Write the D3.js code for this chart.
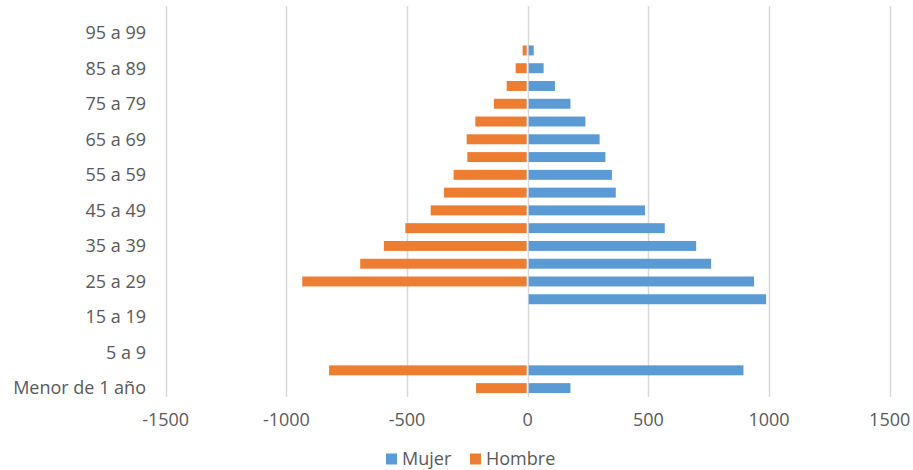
<!DOCTYPE html>
<html>
<head>
<meta charset="utf-8">
<script src="https://cdn.jsdelivr.net/npm/d3@7"></script>
<style>
  body { margin: 0; background: #fff; }
  text { font-family: "Open Sans", sans-serif; fill: #595959; }
</style>
</head>
<body>
<svg id="chart" width="913" height="470"></svg>
<script>
// age groups, bottom to top
const groups = [
  "Menor de 1 año", "1 a 4", "5 a 9", "10 a 14", "15 a 19", "20 a 24",
  "25 a 29", "30 a 34", "35 a 39", "40 a 44", "45 a 49", "50 a 54",
  "55 a 59", "60 a 64", "65 a 69", "70 a 74", "75 a 79", "80 a 84",
  "85 a 89", "90 a 94", "95 a 99", "100 y más"
];

// women (right side)
const mujer = [177, 894, 0, 0, 0, 988, 938, 760, 698, 568, 486, 365,
  349, 322, 298, 239, 177, 113, 66, 25, 0, 0];

// men (left side, negative)
const hombre = [-214, -823, 0, 0, 0, 0, -934, -694, -596, -507, -402, -347,
  -307, -250, -253, -217, -140, -87, -50, -21, 0, 0];

const xTicks = [-1500, -1000, -500, 0, 500, 1000, 1500];

const colors = { Mujer: "#5B9BD5", Hombre: "#ED7D31" };

// ----------------------------------------------------

const svg = d3.select("#chart");

const x = d3.scaleLinear()
  .domain([-1500, 1500])
  .range([165.7, 889.7]);

const y = d3.scaleBand()
  .domain(groups)
  .range([397, 6])
  .paddingInner(0.44)
  .paddingOuter(0.22);

// vertical gridlines
svg.append("g")
  .selectAll("line")
  .data(xTicks)
  .enter()
  .append("line")
  .attr("x1", d => Math.round(x(d)) + 0.5)
  .attr("x2", d => Math.round(x(d)) + 0.5)
  .attr("y1", 6)
  .attr("y2", 397)
  .attr("stroke", "#d9d9d9")
  .attr("stroke-width", 1.5);

// bars
const rows = groups.map((g, i) => ({ g: g, m: mujer[i], h: hombre[i] }));

svg.append("g")
  .selectAll("rect")
  .data(rows.filter(d => d.m > 0))
  .enter()
  .append("rect")
  .attr("x", x(0) + 1)
  .attr("y", d => y(d.g))
  .attr("width", d => x(d.m) - x(0) - 1)
  .attr("height", y.bandwidth())
  .attr("fill", colors.Mujer);

svg.append("g")
  .selectAll("rect")
  .data(rows.filter(d => d.h < 0))
  .enter()
  .append("rect")
  .attr("x", d => x(d.h))
  .attr("y", d => y(d.g))
  .attr("width", d => x(0) - x(d.h) - 1)
  .attr("height", y.bandwidth())
  .attr("fill", colors.Hombre);

// category labels (every other one)
svg.append("g")
  .selectAll("text")
  .data(groups.filter((g, i) => i % 2 === 0))
  .enter()
  .append("text")
  .attr("x", 146)
  .attr("y", d => y(d) + y.bandwidth() / 2)
  .attr("dy", "0.35em")
  .attr("text-anchor", "end")
  .style("font-size", "18px")
  .text(d => d);

// x tick labels
svg.append("g")
  .selectAll("text")
  .data(xTicks)
  .enter()
  .append("text")
  .attr("x", d => x(d))
  .attr("y", 420)
  .attr("dy", "0.35em")
  .attr("text-anchor", "middle")
  .style("font-size", "18px")
  .text(d => d);

// legend
const legend = svg.append("g")
  .selectAll("g")
  .data([["Mujer", 386], ["Hombre", 470]])
  .enter()
  .append("g")
  .attr("transform", d => "translate(" + d[1] + ",459)");

legend.append("rect")
  .attr("x", 0)
  .attr("y", -5.5)
  .attr("width", 11)
  .attr("height", 11)
  .attr("fill", d => colors[d[0]]);

legend.append("text")
  .attr("x", 16)
  .attr("dy", "0.35em")
  .style("font-size", "18px")
  .text(d => d[0]);
</script>
</body>
</html>
